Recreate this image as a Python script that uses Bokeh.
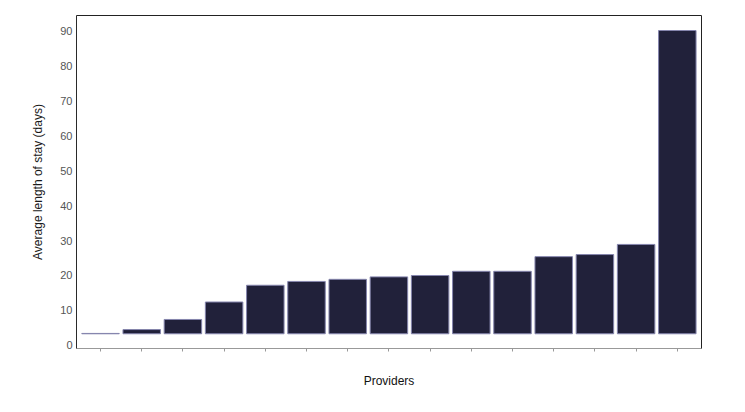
from bokeh.plotting import figure
from bokeh.models import Range1d, FixedTicker, LinearAxis
from bokeh.embed import file_html
from bokeh.resources import INLINE

# Data
providers = list(range(1, 16))
avg_stay = [3.4, 4.5, 7.4, 12.4, 17.2, 18.3, 18.9, 19.6, 20.0, 21.2, 21.2, 25.4, 26.0, 28.9, 90.2]
baseline = 3.3
y_ticks = [0, 10, 20, 30, 40, 50, 60, 70, 80, 90]

FONT = "Liberation Sans"

p = figure(width=737, height=404, output_backend="svg", toolbar_location=None,
           x_range=Range1d(0.417, 15.587), y_range=Range1d(-0.92, 94.5),
           min_border_left=76, min_border_right=36, min_border_top=15, min_border_bottom=56)

p.vbar(x=providers, top=avg_stay, bottom=baseline, width=0.91,
       fill_color="#21213a", line_color="#8585ad", line_width=1)

p.grid.visible = False
p.outline_line_color = None
p.background_fill_color = "white"

# y axis
ya = p.yaxis[0]
ya.ticker = FixedTicker(ticks=y_ticks)
ya.axis_label = "Average length of stay (days)"
ya.axis_label_text_font = FONT
ya.axis_label_text_font_size = "12px"
ya.axis_label_text_font_style = "normal"
ya.axis_label_text_color = "#1a1a1a"
ya.axis_label_standoff = 12
ya.major_label_text_font = FONT
ya.major_label_text_font_size = "11px"
ya.major_label_text_color = "#555555"
ya.major_label_standoff = 4
ya.major_tick_out = 0
ya.major_tick_in = 0
ya.minor_tick_out = 0
ya.minor_tick_in = 0
ya.axis_line_color = "#2a2a2a"

# x axis
xa = p.xaxis[0]
xa.ticker = FixedTicker(ticks=providers)
xa.major_label_overrides = {i: "" for i in providers}
xa.axis_label = "Providers"
xa.axis_label_text_font = FONT
xa.axis_label_text_font_size = "12px"
xa.axis_label_text_font_style = "normal"
xa.axis_label_text_color = "#111111"
xa.axis_label_standoff = 22
xa.major_label_standoff = 0
xa.major_tick_out = 3
xa.major_tick_in = 0
xa.minor_tick_out = 0
xa.minor_tick_in = 0
xa.axis_line_color = "#999999"
xa.major_tick_line_color = "#999999"

# frame top and right
for side in ("above", "right"):
    ax = LinearAxis(ticker=FixedTicker(ticks=[]), axis_line_color="#222222",
                    major_tick_out=0, major_tick_in=0, minor_tick_out=0, minor_tick_in=0,
                    major_label_text_font_size="0px")
    p.add_layout(ax, side)

open("out.html", "w").write(file_html(p, INLINE))
